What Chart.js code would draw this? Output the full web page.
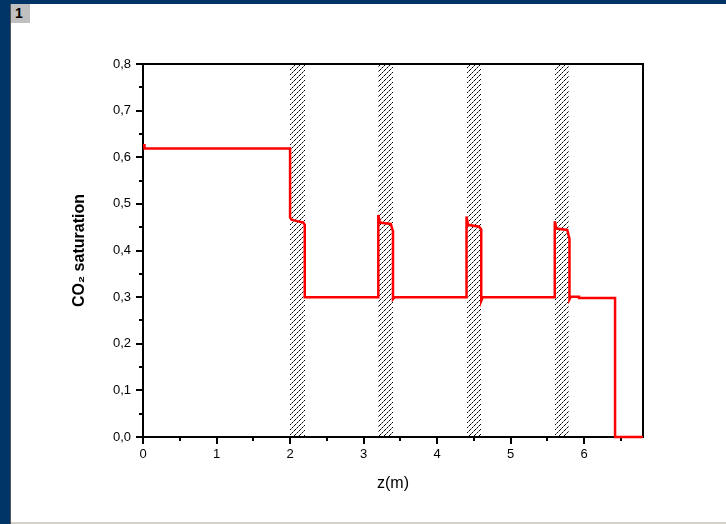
<!DOCTYPE html>
<html>
<head>
<meta charset="utf-8">
<script src="https://cdn.jsdelivr.net/npm/chart.js@4/dist/chart.umd.min.js"></script>
<style>
  html, body { margin: 0; padding: 0; background: #ffffff; }
  #wrap { position: relative; width: 726px; height: 524px; overflow: hidden; background: #ffffff; }
  #topbar { position: absolute; left: 0; top: 0; width: 726px; height: 4px; background: #003366; }
  #leftbar { position: absolute; left: 0; top: 0; width: 10px; height: 524px; background: #003366; }
  #leftline { position: absolute; left: 10px; top: 4px; width: 1px; height: 520px; background: #555555; }
  #bottombar { position: absolute; left: 11px; top: 522px; width: 715px; height: 2px; background: #d4d0c8; }
  #tag { position: absolute; left: 11px; top: 4px; width: 19px; height: 19px; background: #c0c0c0;
         font: bold 14px "Liberation Sans", Arial, sans-serif; color: #000; line-height: 19px; text-indent: 4px; }
  canvas { position: absolute; left: 0; top: 0; }
</style>
</head>
<body>
<div id="wrap">
  <div id="topbar"></div>
  <div id="leftbar"></div>
  <div id="leftline"></div>
  <div id="bottombar"></div>
  <div id="tag">1</div>
  <canvas id="c" width="726" height="524"></canvas>
</div>
<script>
// ---- data ----
const zValues = [0, 0.02, 0.02, 2.0, 2.0, 2.02, 2.12, 2.18, 2.2, 2.2,
                 3.2, 3.2, 3.22, 3.37, 3.4, 3.4, 3.42,
                 4.4, 4.4, 4.42, 4.57, 4.6, 4.6, 4.62,
                 5.6, 5.6, 5.62, 5.77, 5.8, 5.8, 5.82, 5.93, 5.93,
                 6.42, 6.42, 6.8];
const saturation = [0.626, 0.626, 0.619, 0.619, 0.471, 0.466, 0.462, 0.460, 0.455, 0.300,
                    0.300, 0.476, 0.460, 0.457, 0.441, 0.296, 0.300,
                    0.300, 0.473, 0.455, 0.451, 0.445, 0.292, 0.300,
                    0.300, 0.463, 0.447, 0.444, 0.425, 0.295, 0.301, 0.301, 0.298,
                    0.298, 0.0, 0.0];
const hatchBands = [[2.0, 2.2], [3.2, 3.4], [4.4, 4.6], [5.6, 5.8]];
const xMajorTicks = [0, 1, 2, 3, 4, 5, 6];
const xMinorTicks = [0.5, 1.5, 2.5, 3.5, 4.5, 5.5, 6.5];
const yMajorTicks = [0, 0.1, 0.2, 0.3, 0.4, 0.5, 0.6, 0.7, 0.8];
const yMinorTicks = [0.05, 0.15, 0.25, 0.35, 0.45, 0.55, 0.65, 0.75];
const xRange = [0, 6.8];
const yRange = [0, 0.8];
const xTitle = 'z(m)';
const yTitle = 'CO\u2082 saturation';

const points = zValues.map((z, i) => ({ x: z, y: saturation[i] }));

// diagonal hatch pattern (///), dotted look
function makePattern(ctx) {
  const p = document.createElement('canvas');
  p.width = 5; p.height = 5;
  const g = p.getContext('2d');
  g.fillStyle = '#000';
  g.fillRect(0, 4, 1, 1);
  g.fillRect(2, 2, 1, 1);
  g.fillRect(4, 0, 1, 1);
  g.fillStyle = '#7a7a7a';
  g.fillRect(1, 3, 1, 1);
  g.fillRect(3, 1, 1, 1);
  return ctx.createPattern(p, 'repeat');
}

const framePlugin = {
  id: 'frame',
  beforeDatasetsDraw(chart) {
    const { ctx, chartArea: a, scales: { x, y } } = chart;
    ctx.save();
    const pat = makePattern(ctx);
    ctx.fillStyle = pat;
    hatchBands.forEach(([b0, b1]) => {
      const x0 = Math.round(x.getPixelForValue(b0)), x1 = Math.round(x.getPixelForValue(b1));
      const yt = Math.round(y.getPixelForValue(yRange[1])), yb = Math.round(y.getPixelForValue(yRange[0]));
      ctx.fillRect(x0, yt, x1 - x0, yb - yt);
    });
    ctx.strokeStyle = '#000';
    ctx.lineWidth = 2;
    ctx.strokeRect(a.left, a.top, a.right - a.left, a.bottom - a.top);
    ctx.beginPath();
    xMajorTicks.forEach(v => { const px = Math.round(x.getPixelForValue(v)); ctx.moveTo(px, a.bottom); ctx.lineTo(px, a.bottom + 7); });
    xMinorTicks.forEach(v => { const px = Math.round(x.getPixelForValue(v)); ctx.moveTo(px, a.bottom); ctx.lineTo(px, a.bottom + 4); });
    yMajorTicks.forEach(v => { const py = Math.round(y.getPixelForValue(v)); ctx.moveTo(a.left, py); ctx.lineTo(a.left - 7, py); });
    yMinorTicks.forEach(v => { const py = Math.round(y.getPixelForValue(v)); ctx.moveTo(a.left, py); ctx.lineTo(a.left - 4, py); });
    ctx.stroke();
    ctx.restore();
  }
};

const tickFont = { family: '"Liberation Sans", Arial, sans-serif', size: 13 };

new Chart(document.getElementById('c'), {
  type: 'scatter',
  data: {
    datasets: [{
      data: points,
      showLine: true,
      borderColor: '#ff0000',
      backgroundColor: '#ff0000',
      borderWidth: 2.5,
      pointRadius: 0,
      tension: 0,
      clip: 4
    }]
  },
  options: {
    responsive: false,
    devicePixelRatio: 1,
    animation: false,
    layout: { padding: { left: 0, top: 64, right: 83, bottom: 0 } },
    plugins: { legend: { display: false }, tooltip: { enabled: false } },
    scales: {
      x: {
        type: 'linear',
        min: xRange[0], max: xRange[1],
        grid: { display: false, tickLength: 7 },
        border: { display: false },
        afterBuildTicks: s => { s.ticks = xMajorTicks.map(v => ({ value: v })); },
        afterFit: s => { s.height = 87; },
        ticks: {
          color: '#000', font: tickFont, padding: 3, maxRotation: 0,
          callback: v => String(v)
        },
        title: {
          display: true, text: xTitle, color: '#000',
          font: { family: '"Liberation Sans", Arial, sans-serif', size: 16 },
          padding: { top: 0, bottom: 31 }
        }
      },
      y: {
        type: 'linear',
        min: yRange[0], max: yRange[1],
        grid: { display: false, tickLength: 7 },
        border: { display: false },
        afterBuildTicks: s => { s.ticks = yMajorTicks.map(v => ({ value: v })); },
        afterFit: s => { s.width = 143; },
        ticks: {
          color: '#000', font: tickFont, padding: 5,
          callback: v => Number(v).toFixed(1).replace('.', ',')
        },
        title: {
          display: true, text: yTitle, color: '#000',
          font: { family: '"Liberation Sans", Arial, sans-serif', size: 16, weight: 'bold' },
          padding: { top: 70, bottom: 0 }
        }
      }
    }
  },
  plugins: [framePlugin]
});
</script>
</body>
</html>
